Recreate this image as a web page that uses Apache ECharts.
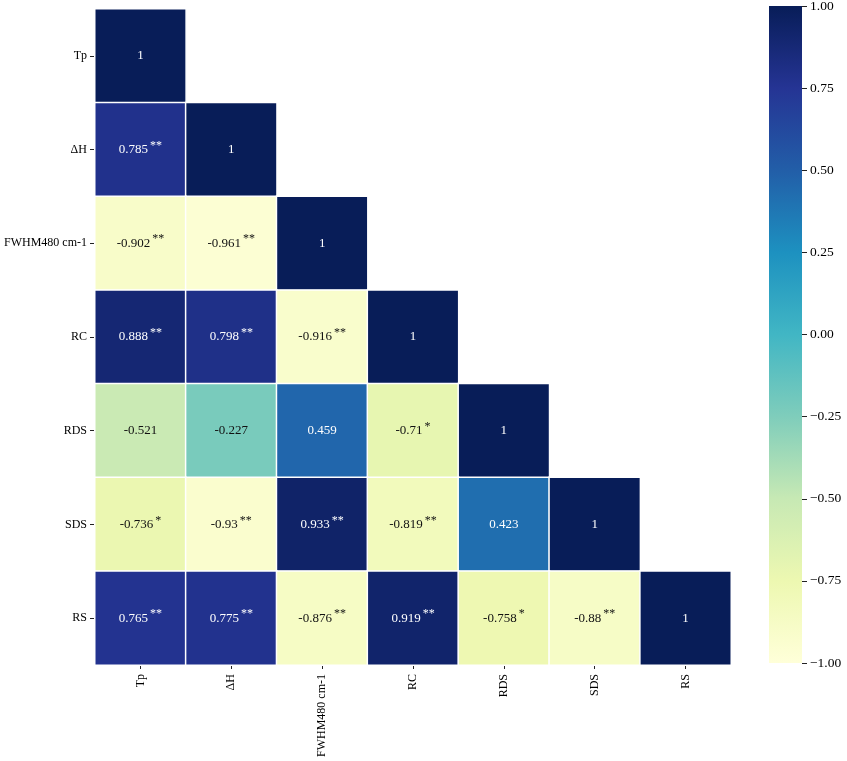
<!DOCTYPE html>
<html>
<head>
<meta charset="utf-8">
<script src="https://cdn.jsdelivr.net/npm/echarts@6/dist/echarts.min.js"></script>
<style>
  html, body { margin: 0; padding: 0; background: #fff; }
  #main { width: 847px; height: 761px; }
</style>
</head>
<body>
<div id="main"></div>
<script>
// variable names
var vars = ['Tp', 'ΔH', 'FWHM480 cm-1', 'RC', 'RDS', 'SDS', 'RS'];
// lower triangle, one row per variable
var corr = [
	[1],
	[0.785, 1],
	[-0.902, -0.961, 1],
	[0.888, 0.798, -0.916, 1],
	[-0.521, -0.227, 0.459, -0.71, 1],
	[-0.736, -0.93, 0.933, -0.819, 0.423, 1],
	[0.765, 0.775, -0.876, 0.919, -0.758, -0.88, 1]
];
// significance marks
var stars = [
	[''],
	['**', ''],
	['**', '**', ''],
	['**', '**', '**', ''],
	['', '', '', '*', ''],
	['*', '**', '**', '**', '', ''],
	['**', '**', '**', '**', '*', '**', '']
];
var ylgnbu = ['#ffffd9', '#edf8b1', '#c7e9b4', '#7fcdbb', '#41b6c4', '#1d91c0', '#225ea8', '#253494', '#081d58'];

var font = 'Liberation Serif';
var data = [];
for (var r = 0; r < corr.length; r++) {
	for (var c = 0; c < corr[r].length; c++) {
		var v = corr[r][c];
		var col = v > 0.3 ? '#ffffff' : '#111111';
		data.push({
			value: [c, r, v],
			star: stars[r][c],
			label: {
				rich: {
					v: { color: col, fontSize: 13, fontFamily: font },
					s: { color: col, fontSize: 12, fontFamily: font, padding: [0, 0, 8, 2] }
				}
			}
		});
	}
}

// colour bar gradient, bottom (-1) to top (1)
var stops = [];
for (var i = 0; i < ylgnbu.length; i++) {
	stops.push({ offset: i / (ylgnbu.length - 1), color: ylgnbu[i] });
}

var myChart = echarts.init(document.getElementById('main'));
var option = {
	backgroundColor: '#fff',
	animation: false,
	textStyle: { fontFamily: font },
	grid: [
		{ left: 95, top: 9, width: 636, height: 656, containLabel: false, outerBoundsMode: 'none' },
		{ left: 769, top: 6, width: 33, height: 657, containLabel: false, outerBoundsMode: 'none' }
	],
	xAxis: [{
		type: 'category',
		gridIndex: 0,
		data: vars,
		axisLine: { show: false },
		axisTick: { show: true, alignWithLabel: true, length: 4, lineStyle: { color: '#222' } },
		axisLabel: { rotate: 90, color: '#000', fontSize: 12, fontFamily: font, margin: 9 },
		splitLine: { show: false }
	}, {
		type: 'value',
		gridIndex: 1,
		show: false
	}],
	yAxis: [{
		type: 'category',
		gridIndex: 0,
		data: vars,
		inverse: true,
		axisLine: { show: false },
		axisTick: { show: true, alignWithLabel: true, length: 5, lineStyle: { color: '#222' } },
		axisLabel: { color: '#000', fontSize: 12, fontFamily: font, margin: 8 },
		splitLine: { show: false }
	}, {
		type: 'value',
		gridIndex: 1,
		position: 'right',
		min: -1,
		max: 1,
		interval: 0.25,
		axisLine: { show: false, onZero: false },
		axisTick: { show: true, length: 5, lineStyle: { color: '#222' } },
		axisLabel: {
			color: '#000', fontSize: 13.5, fontFamily: font, margin: 8,
			formatter: function (v) {
				var s = Math.abs(v).toFixed(2);
				return v < 0 ? '\u2212' + s : s;
			}
		},
		splitLine: { show: false }
	}],
	visualMap: {
		type: 'continuous',
		show: false,
		min: -1,
		max: 1,
		seriesIndex: 0,
		inRange: { color: ylgnbu }
	},
	graphic: [{
		type: 'rect',
		left: 769,
		top: 6,
		shape: { width: 33, height: 657 },
		style: {
			fill: new echarts.graphic.LinearGradient(0, 1, 0, 0, stops)
		},
		z: 0
	}],
	series: [{
		type: 'heatmap',
		xAxisIndex: 0,
		yAxisIndex: 0,
		data: data,
		itemStyle: { borderColor: '#fff', borderWidth: 1.5 },
		label: {
			show: true,
			formatter: function (p) {
				var t = '{v|' + p.data.value[2] + '}';
				if (p.data.star) t += '{s|' + p.data.star + '}';
				return t;
			}
		},
		emphasis: { disabled: true }
	}]
};
myChart.setOption(option);
</script>
</body>
</html>
